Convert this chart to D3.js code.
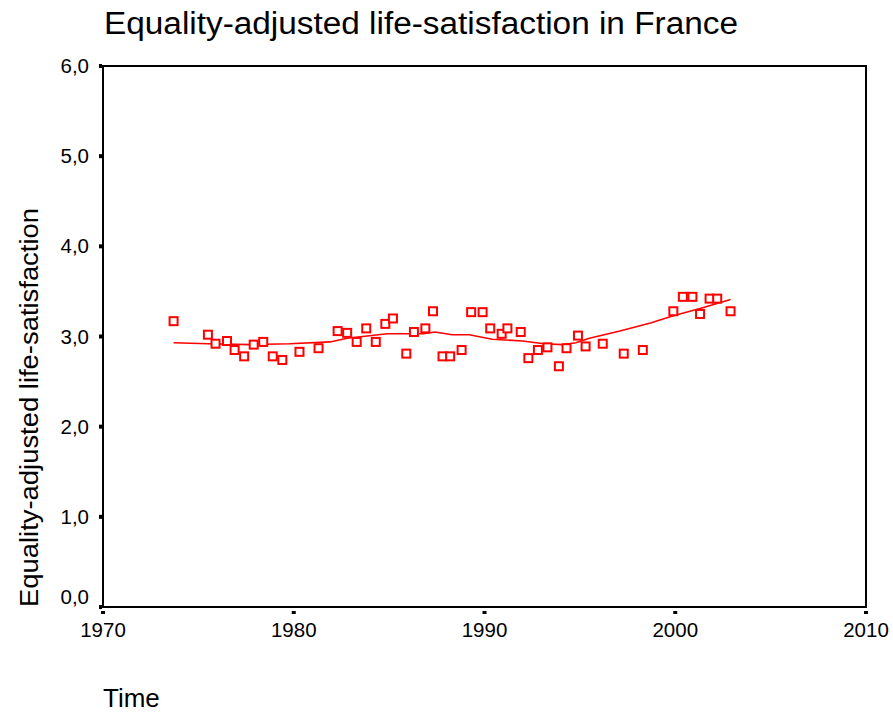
<!DOCTYPE html>
<html>
<head>
<meta charset="utf-8">
<script src="https://cdn.jsdelivr.net/npm/d3@7"></script>
<style>
  body { margin: 0; background: #fff; }
  svg { font-family: Arial, "Liberation Sans", sans-serif; }
</style>
</head>
<body>
<svg width="893" height="716"></svg>
<script>
// observed points (year, equality-adjusted life-satisfaction)
var years = [1973.7, 1975.5, 1975.9, 1976.5, 1976.9, 1977.4, 1977.9, 1978.4, 1978.9, 1979.4,
             1980.3, 1981.3, 1982.3, 1982.8, 1983.3, 1983.8, 1984.3, 1984.8, 1985.2, 1985.9,
             1986.3, 1986.9, 1987.3, 1987.8, 1988.2, 1988.8, 1989.3, 1989.9, 1990.3, 1990.9,
             1991.2, 1991.9, 1992.3, 1992.8, 1993.3, 1993.9, 1994.3, 1994.9, 1995.3, 1996.2,
             1997.3, 1998.3, 1999.9, 2000.4, 2000.9, 2001.3, 2001.8, 2002.2, 2002.9];
var values = [3.17, 3.02, 2.92, 2.95, 2.85, 2.78, 2.91, 2.94, 2.78, 2.74,
              2.83, 2.87, 3.06, 3.04, 2.94, 3.09, 2.94, 3.14, 3.20, 2.81,
              3.05, 3.09, 3.28, 2.78, 2.78, 2.85, 3.27, 3.27, 3.09, 3.03,
              3.09, 3.05, 2.76, 2.85, 2.88, 2.67, 2.87, 3.01, 2.89, 2.92,
              2.81, 2.85, 3.28, 3.44, 3.44, 3.25, 3.42, 3.42, 3.28];

// smoothed fit line
var fitYears  = [1973.7, 1975.5, 1977.7, 1979.8, 1981.9, 1982.8, 1984.9, 1986.8, 1987.4, 1988.3,
                 1989.2, 1990.4, 1992.0, 1993.1, 1994.1, 1994.8, 1995.5, 1997.1, 1998.7, 1999.9,
                 2001.3, 2002.9];
var fitValues = [2.93, 2.92, 2.91, 2.92, 2.94, 2.98, 3.03, 3.03, 3.05, 3.02,
                 3.02, 2.97, 2.95, 2.92, 2.91, 2.93, 2.98, 3.06, 3.15, 3.23,
                 3.31, 3.41];

var xTicks = [1970, 1980, 1990, 2000, 2010];
var yTicks = [0, 1, 2, 3, 4, 5, 6];

var svg = d3.select('svg');
var margin = {top: 66, right: 27, bottom: 109, left: 103};
var width = 893 - margin.left - margin.right;
var height = 716 - margin.top - margin.bottom;

var x = d3.scaleLinear().domain([1970, 2010]).range([0, width]);
var y = d3.scaleLinear().domain([0, 6]).range([height, 0]);
var fmt = function(d) { return d3.format('.1f')(d).replace('.', ','); };

var g = svg.append('g')
    .attr('transform', 'translate(' + margin.left + ',' + margin.top + ')');

// frame
g.append('rect')
    .attr('width', width).attr('height', height)
    .style('fill', 'none').style('stroke', '#000').style('stroke-width', 2);

// x axis
var xAxis = g.append('g').attr('transform', 'translate(0,' + height + ')');
xAxis.selectAll('rect').data(xTicks).enter().append('rect')
    .attr('x', function(d) { return x(d) - 2; })
    .attr('y', 4).attr('width', 4).attr('height', 3)
    .style('fill', '#000');
xAxis.selectAll('text').data(xTicks).enter().append('text')
    .attr('x', function(d) { return x(d); })
    .attr('y', 30)
    .attr('text-anchor', 'middle')
    .style('font-size', '20.5px')
    .text(function(d) { return d; });

// y axis
var yAxis = g.append('g');
yAxis.selectAll('rect').data(yTicks).enter().append('rect')
    .attr('x', -4).attr('y', function(d) { return y(d) - 2; })
    .attr('width', 3).attr('height', 4)
    .style('fill', '#000');
yAxis.selectAll('text').data(yTicks).enter().append('text')
    .attr('x', -14)
    .attr('y', function(d) { return d === 0 ? y(d) - 3 : y(d) + 7; })
    .attr('text-anchor', 'end')
    .style('font-size', '20.5px')
    .text(fmt);

// fit line
var line = d3.line()
    .x(function(d) { return x(d[0]); })
    .y(function(d) { return y(d[1]); });
g.append('path')
    .datum(d3.zip(fitYears, fitValues))
    .attr('d', line)
    .style('fill', 'none').style('stroke', '#ff0000').style('stroke-width', 1.6);

// points
g.selectAll('.pt').data(d3.zip(years, values)).enter().append('rect')
    .attr('class', 'pt')
    .attr('x', function(d) { return x(d[0]) - 4; })
    .attr('y', function(d) { return y(d[1]) - 4; })
    .attr('width', 8).attr('height', 8)
    .style('fill', '#fff').style('stroke', '#ff0000').style('stroke-width', 2);

// titles
svg.append('text')
    .attr('x', 104).attr('y', 34)
    .attr('textLength', 634).attr('lengthAdjust', 'spacingAndGlyphs')
    .style('font-size', '31px')
    .text('Equality-adjusted life-satisfaction in France');

svg.append('text')
    .attr('transform', 'translate(38,607) rotate(-90)')
    .attr('textLength', 399).attr('lengthAdjust', 'spacingAndGlyphs')
    .style('font-size', '26px')
    .text('Equality-adjusted life-satisfaction');

svg.append('text')
    .attr('x', 103).attr('y', 707)
    .style('font-size', '26px')
    .text('Time');
</script>
</body>
</html>
